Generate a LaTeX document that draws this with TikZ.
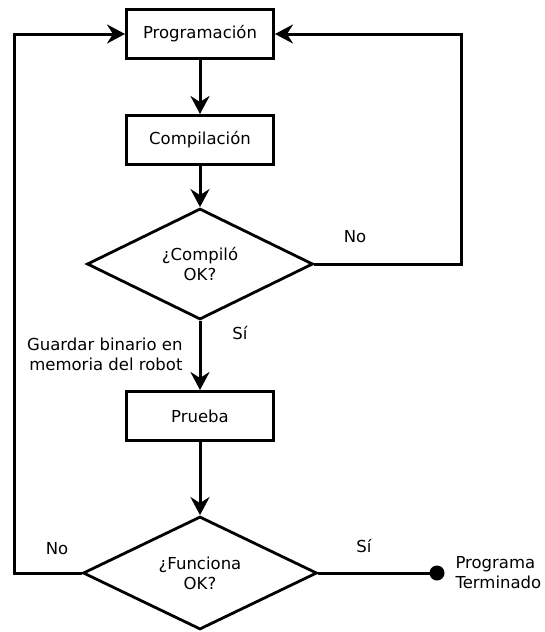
\documentclass[tikz,border=0pt]{standalone}
\usepackage{fontspec}
\setmainfont{DejaVu Sans}
\usetikzlibrary{shapes.geometric, arrows.meta}

\begin{document}
\begin{tikzpicture}[x=1pt, y=-1pt,
	every node/.style={font=\fontsize{16.5}{20}\selectfont},
	caja/.style={draw, line width=3pt, minimum width=147pt, minimum height=49pt, inner sep=0pt},
	rombo/.style={draw, diamond, line width=2.8pt, aspect=2, inner sep=0pt, align=center},
	flecha/.style={line width=3pt, -{Stealth[length=18pt, width=19pt, inset=6pt]}},
	linea/.style={line width=3pt}]

	\useasboundingbox (0,0) rectangle (544,632);

	\node[caja] (prog) at (200,34) {Programación};
	\node[caja] (comp) at (200,140) {Compilación};
	\node[rombo, minimum width=226pt, minimum height=111pt] (compok) at (200,264) {¿Compiló\\OK?};
	\node[caja] (prueba) at (200,416) {Prueba};
	\node[rombo, minimum width=234pt, minimum height=113pt] (funok) at (200,573) {¿Funciona\\OK?};
	\fill (437,573) circle (7.5) coordinate (fin);

	\draw[flecha] (prog) -- (comp);
	\draw[flecha] (comp) -- (compok);
	\draw[flecha] (compok) -- (prueba);
	\draw[flecha] (prueba) -- (funok);
	\draw[flecha] (compok.east) -- (461,264) |- (prog.east);
	\draw[flecha] (funok.west) -- (14,573) |- (prog.west);
	\draw[linea] (funok.east) -- (fin);

	\node (no1) at (355,237) {No};
	\node (si1) at (240,333) {Sí};
	\node[anchor=east, align=right] (guardar) at (186,354) {Guardar binario en\\memoria del robot};
	\node (no2) at (57,549) {No};
	\node (si2) at (364,546) {Sí};
	\node[anchor=west, align=left] (term) at (452,573) {Programa\\Terminado};

\end{tikzpicture}
\end{document}
